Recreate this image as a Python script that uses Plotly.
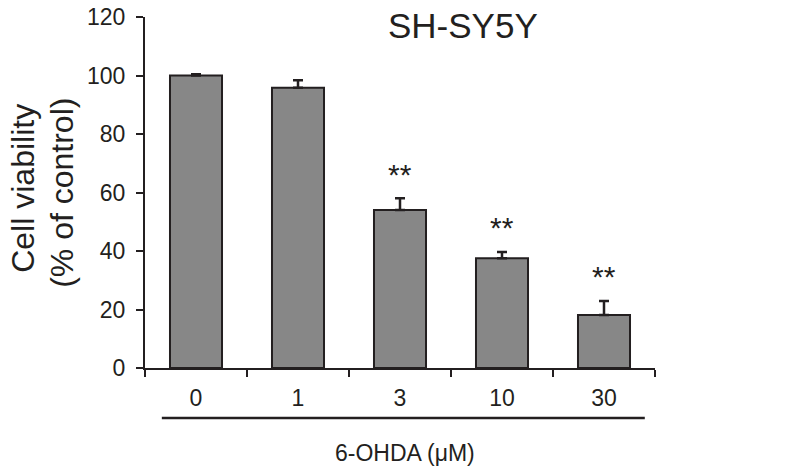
import plotly.graph_objects as go

# 6-OHDA concentrations (uM) and viability (% of control)
doses = ["0", "1", "3", "10", "30"]
viability = [100, 95.8, 54, 37.5, 18.1]
sem = [0.4, 2.6, 4.0, 2.2, 4.8]
signif = ["", "", "**", "**", "**"]

INK = "#231f20"
BAR = "#878787"
FONT = "Liberation Sans, Arial, sans-serif"

fig = go.Figure(
    go.Bar(
        x=doses,
        y=viability,
        width=0.51,
        marker=dict(color=BAR, line=dict(color=INK, width=2)),
        error_y=dict(type="data", array=sem, symmetric=False, arrayminus=[0] * 5,
                     color=INK, thickness=2.5, width=5),
    )
)

annots = []
# significance stars above the error bars (category index as x)
for i, (v, e, s) in enumerate(zip(viability, sem, signif)):
    if s:
        annots.append(dict(x=i, y=v + e + 8.3, xref="x", yref="y", text=s,
                           showarrow=False, font=dict(size=30, color=INK),
                           yanchor="middle"))

annots += [
    dict(text="SH-SY5Y", xref="paper", yref="paper", x=0.6245, y=0.976,
         showarrow=False, font=dict(size=35, color=INK), yanchor="middle"),
    dict(text="Cell viability", xref="paper", yref="paper",
         x=-0.2395, y=0.513, textangle=-90, showarrow=False,
         font=dict(size=32, color=INK), xanchor="center", yanchor="middle"),
    dict(text="(% of control)", xref="paper", yref="paper",
         x=-0.164, y=0.5, textangle=-90, showarrow=False,
         font=dict(size=32, color=INK), xanchor="center", yanchor="middle"),
    dict(text="6-OHDA (μM)", xref="paper", yref="paper", x=0.51, y=-0.241,
         showarrow=False, font=dict(size=23, color=INK), yanchor="middle"),
]

fig.update_layout(
    width=786, height=475,
    margin=dict(l=145, r=131, t=17, b=107),
    plot_bgcolor="white", paper_bgcolor="white",
    font=dict(family=FONT, color=INK, size=23),
    showlegend=False,
    xaxis=dict(
        type="category", range=[-0.5, 4.5], automargin=False,
        showline=True, linecolor=INK, linewidth=2,
        ticks="outside", tickson="boundaries", ticklen=7, tickwidth=2, tickcolor=INK,
        ticklabelstandoff=8,
        tickfont=dict(size=23), showgrid=False,
    ),
    yaxis=dict(
        range=[0, 120], tickvals=[0, 20, 40, 60, 80, 100, 120], automargin=False,
        showline=True, linecolor=INK, linewidth=2,
        ticks="outside", ticklen=7, tickwidth=2, tickcolor=INK,
        ticklabelstandoff=6,
        tickfont=dict(size=23), showgrid=False, zeroline=False,
    ),
    annotations=annots,
    shapes=[
        dict(type="line", xref="paper", yref="paper", x0=0.033, x1=0.98,
             y0=-0.1425, y1=-0.1425, line=dict(color=INK, width=2.5)),
    ],
)

# drop the browser's default body margin so the figure sits at the page corner
fig.write_html("out.html", config={"displayModeBar": False},
               post_script="document.body.style.margin='0';")
